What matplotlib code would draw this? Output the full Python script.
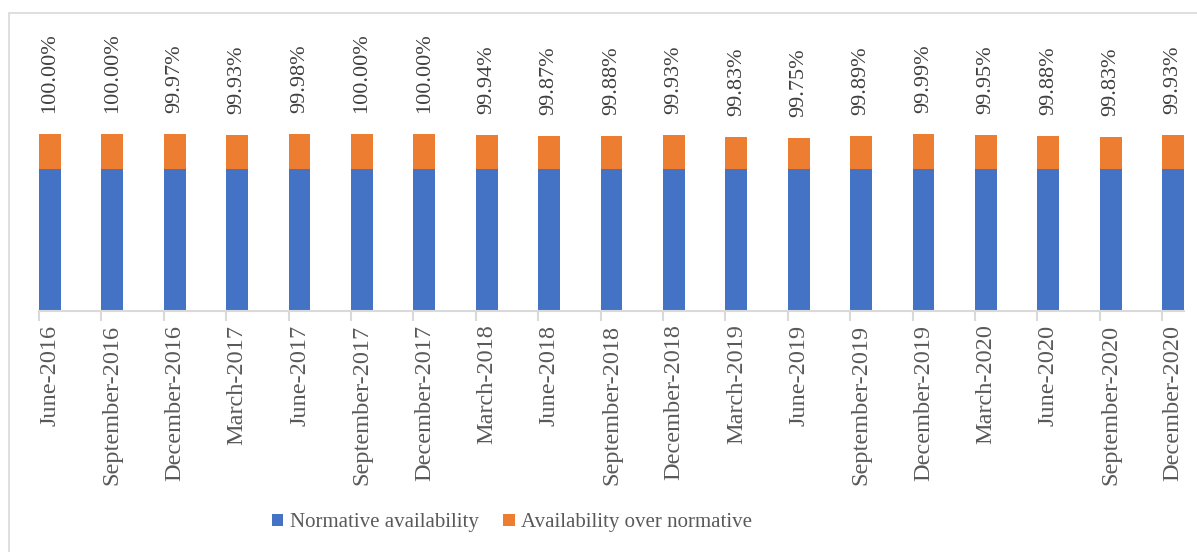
import matplotlib.pyplot as plt
import numpy as np
from matplotlib.patches import Rectangle

# quarters and availability
periods = ["June-2016", "September-2016", "December-2016", "March-2017", "June-2017",
           "September-2017", "December-2017", "March-2018", "June-2018", "September-2018",
           "December-2018", "March-2019", "June-2019", "September-2019", "December-2019",
           "March-2020", "June-2020", "September-2020", "December-2020"]
total = [100.00, 100.00, 99.97, 99.93, 99.98, 100.00, 100.00, 99.94, 99.87, 99.88,
         99.93, 99.83, 99.75, 99.89, 99.99, 99.95, 99.88, 99.83, 99.93]
normative = [98.0] * len(periods)
over = [t - n for t, n in zip(total, normative)]

blue = "#4472C4"
orange = "#ED7D31"
grey = "#D9D9D9"
txt = "#595959"

plt.rcParams['font.family'] = ['Liberation Serif', 'DejaVu Serif']

fig = plt.figure(figsize=(11.97, 5.52), dpi=100)
W, H = 1197, 552

# chart frame (cut off on the right/bottom like the original)
fig.add_artist(Rectangle((9 / W, -0.1), 1.2, 1 - 13 / H + 0.1, transform=fig.transFigure,
                         fill=False, edgecolor=grey, linewidth=1.2))

bottom_px = 310.7
px_per_pct = 17.7
ymin, ymax = 90, 102
ax = fig.add_axes([39 / W, (H - bottom_px) / H, (1184 - 39) / W, (ymax - ymin) * px_per_pct / H])

x = np.arange(len(periods))
bw = 0.35
ax.bar(x, [n - ymin for n in normative], bottom=ymin, width=bw, align="edge",
       color=blue, label="Normative availability")
ax.bar(x, over, bottom=normative, width=bw, align="edge",
       color=orange, label="Availability over normative")

for xi, t in zip(x, total):
    ax.annotate("{0:.2f}%".format(t), (xi + bw / 2, t), xytext=(0, 21),
                textcoords="offset pixels", rotation=90, ha="center", va="bottom",
                fontsize=16, color="#404040", annotation_clip=False)

ax.set_xlim(0, len(periods) - 1 + bw)
ax.set_ylim(ymin, ymax)
ax.set_yticks([])
for s in ["left", "right", "top"]:
    ax.spines[s].set_visible(False)
ax.spines["bottom"].set_color(grey)
ax.spines["bottom"].set_linewidth(1.5)

ax.set_xticks(x + bw / 2)
ax.set_xticklabels(periods, rotation=90, fontsize=17.5, color=txt)
ax.tick_params(axis="x", which="major", length=0, pad=10)
ax.set_xticks(x, minor=True)
ax.tick_params(axis="x", which="minor", length=7, color=grey, width=1.5)

fig.legend(loc="center", bbox_to_anchor=(512 / W, (H - 523) / H), ncol=2, frameon=False,
           fontsize=15, handlelength=0.55, handleheight=0.55, handletextpad=0.3,
           columnspacing=1.2, labelcolor=txt)

fig.savefig("out.png", dpi=100)
